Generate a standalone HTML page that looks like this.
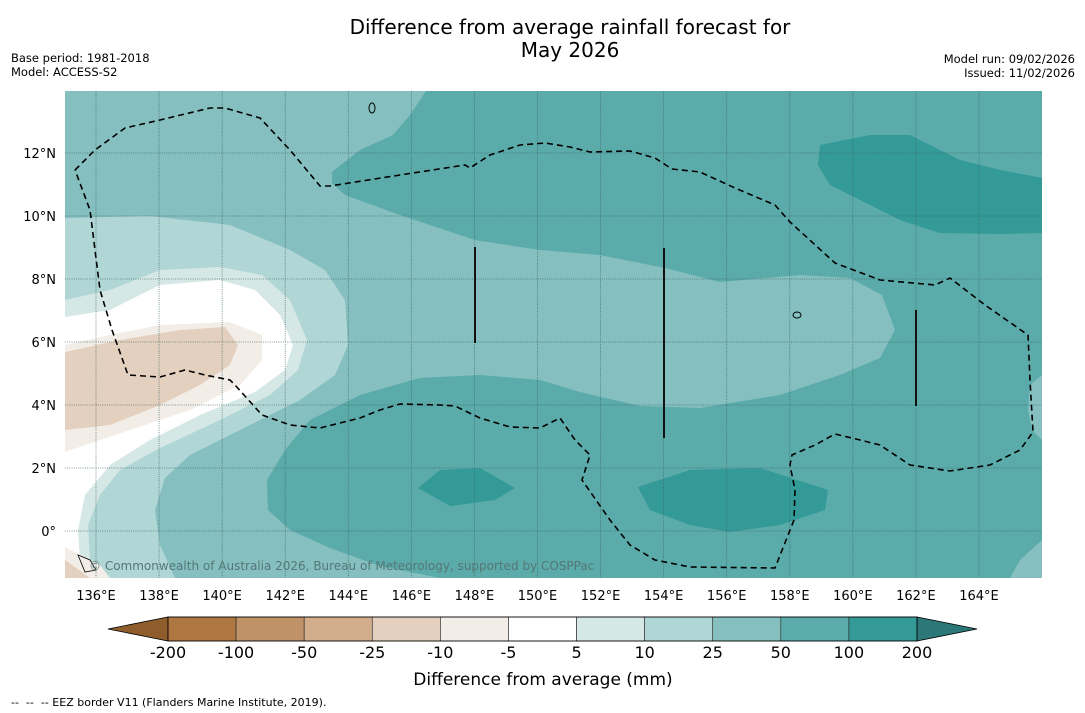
<!DOCTYPE html>
<html><head><meta charset="utf-8"><style>
body{margin:0;background:#fff;font-family:"Liberation Sans","DejaVu Sans",sans-serif;}
svg{display:block}
text{font-family:"DejaVu Sans","Liberation Sans",sans-serif;}
</style></head><body>
<svg id="s" width="1085" height="713" viewBox="0 0 1085 713">
<text x="570" y="34" font-size="20" text-anchor="middle">Difference from average rainfall forecast for</text>
<text x="570" y="57" font-size="20" text-anchor="middle">May 2026</text>
<text x="11" y="62" font-size="11.5">Base period: 1981-2018</text>
<text x="11" y="76" font-size="11.5">Model: ACCESS-S2</text>
<text x="1075" y="63" font-size="11.5" text-anchor="end">Model run: 09/02/2026</text>
<text x="1075" y="77" font-size="11.5" text-anchor="end">Issued: 11/02/2026</text>
<defs><clipPath id="mc"><rect x="65" y="91" width="977" height="487"/></clipPath></defs>
<g clip-path="url(#mc)">
<rect x="65" y="91" width="977" height="487" fill="#85bfbf"/>
<polygon fill="#5aabaa" points="426,91 1042,91 1042,375 1030,385 1028,410 1032,430 1042,440 1042,540 1020,560 1010,578 440,578 380,566 330,548 290,530 268,510 267,480 285,450 310,420 360,395 420,378 480,375 540,380 580,392 640,406 700,408 780,395 840,375 880,358 895,330 882,295 850,278 800,275 720,282 665,268 600,255 540,250 475,240 400,215 345,195 332,183 332,172 360,150 393,135 410,115"/>
<polygon fill="#339a97" points="820,145 870,135 910,135 960,160 1000,170 1042,178 1042,233 1000,234 940,233 900,220 860,200 830,185 818,165"/>
<polygon fill="#339a97" points="418,488 440,470 480,468 515,488 495,500 450,506"/>
<polygon fill="#339a97" points="638,487 690,470 760,468 828,490 825,510 780,525 730,532 690,525 650,510"/>
<polygon fill="#b0d6d5" points="65,218 150,216 230,225 290,250 325,270 345,300 348,345 335,375 300,400 240,430 190,455 165,478 155,510 160,545 175,578 65,578"/>
<polygon fill="#d5e8e6" points="65,300 110,290 160,270 220,267 262,275 290,300 307,340 298,370 270,395 220,420 160,448 120,470 100,495 88,525 90,560 100,578 65,578"/>
<polygon fill="#ffffff" points="65,317 110,310 160,285 220,280 255,290 280,315 293,345 285,370 255,392 200,415 150,440 110,465 85,495 78,530 80,560 85,578 65,578"/>
<polygon fill="#f2ede7" points="65,345 110,335 160,325 230,322 262,335 262,360 240,385 190,410 130,430 65,452"/>
<polygon fill="#f2ede7" points="65,547 100,565 110,578 65,578"/>
<polygon fill="#e4d0be" points="65,352 120,340 180,330 225,327 238,345 230,365 200,385 160,405 110,425 65,430"/>
<polygon fill="#e4d0be" points="65,560 90,578 65,578"/>
<g id="grid" stroke="#3f6464" stroke-width="0.8" stroke-dasharray="1,1.2" opacity="0.85"></g>
<polyline fill="none" stroke="#000" stroke-width="1.6" stroke-dasharray="6,4" points="75,170 95,150 125,128 160,120 210,108 225,108 260,118 290,150 320,186 330,186 400,175 465,165 470,168 490,155 520,145 545,143 570,147 590,152 630,151 655,158 672,169 700,172 735,188 775,205 790,222 835,263 880,280 935,285 950,278 985,305 1028,335 1030,380 1033,432 1020,450 990,465 950,471 910,465 880,445 860,440 835,434 815,445 792,455 790,465 795,490 794,520 775,568 690,567 655,560 630,545 610,520 582,480 590,455 575,440 560,418 540,428 510,427 480,418 455,406 440,405 400,404 380,410 360,418 320,428 290,425 262,415 235,385 230,380 205,375 185,370 160,377 128,375 112,330 100,290 90,210 75,170"/>
<line x1="475" y1="247" x2="475" y2="343" stroke="#111" stroke-width="2"/>
<line x1="664" y1="248" x2="664" y2="438" stroke="#111" stroke-width="2"/>
<line x1="916" y1="310" x2="916" y2="406" stroke="#111" stroke-width="2"/>
<ellipse cx="372" cy="108" rx="3" ry="5" fill="none" stroke="#000" stroke-width="1"/>
<ellipse cx="797" cy="315" rx="4" ry="3" fill="none" stroke="#000" stroke-width="1"/>
<path d="M78,555 L90,560 L96,570 L85,572 Z" fill="none" stroke="#000" stroke-width="0.8"/>
<text x="89" y="570" font-size="12" fill="#557777">© Commonwealth of Australia 2026, Bureau of Meteorology, supported by COSPPac</text>
</g>
<g id="ticks" font-size="13"></g>
<g id="cbar"></g>
<text x="543" y="685" font-size="17" text-anchor="middle">Difference from average (mm)</text>
<text x="11" y="706" font-size="11" xml:space="preserve" style="white-space:pre">--  --  -- EEZ border V11 (Flanders Marine Institute, 2019).</text>
</svg>
<script>
const lonTicks=[136,138,140,142,144,146,148,150,152,154,156,158,160,162,164];
const latTicks=[0,2,4,6,8,10,12];
const levels=["-200","-100","-50","-25","-10","-5","5","10","25","50","100","200"];
const levelColors=["#ae7741","#c09268","#d2ae8d","#e4d0be","#f2ede7","#ffffff","#d5e8e6","#b0d6d5","#85bfbf","#5aabaa","#339a97"];
const NS="http://www.w3.org/2000/svg";
const xLon=l=>96+(l-136)*31.535;
const yLat=l=>531-l*31.5;
function mk(t,a,p){const e=document.createElementNS(NS,t);for(const k in a)e.setAttribute(k,a[k]);p.appendChild(e);return e;}
const grid=document.getElementById('grid'),ticks=document.getElementById('ticks');
lonTicks.forEach(l=>{const x=xLon(l);
 const g=mk('line',{x1:x,y1:91,x2:x,y2:578},grid);
 
 
 const t=mk('text',{x:x,y:600,'text-anchor':'middle'},ticks);t.textContent=l+'°E';
 
 });
latTicks.forEach(l=>{const y=yLat(l);
 const g=mk('line',{x1:65,y1:y,x2:1042,y2:y},grid);
 
 
 const t=mk('text',{x:56,y:y+5,'text-anchor':'end'},ticks);t.textContent=l===0?'0°':l+'°N';
 
 });
const cb=document.getElementById('cbar');const x0=168,x1=917,w=(x1-x0)/levelColors.length,y0=617,h=24;
const lt=mk('polygon',{points:`${x0},${y0} ${x0},${y0+h} 108,${y0+h/2}`,fill:'#8f5d2c',stroke:'#000','stroke-width':0.8},cb);


const rt=mk('polygon',{points:`${x1},${y0} ${x1},${y0+h} 977,${y0+h/2}`,fill:'#2c7777',stroke:'#000','stroke-width':0.8},cb);


levelColors.forEach((c,i)=>{const r=mk('rect',{x:x0+i*w,y:y0,width:w,height:h,fill:c,stroke:'#222','stroke-width':0.6},cb);
 
 });
mk('rect',{x:x0,y:y0,width:x1-x0,height:h,fill:'none',stroke:'#000','stroke-width':0.8},cb);
levels.forEach((v,i)=>{const t=mk('text',{x:x0+i*w,y:658,'text-anchor':'middle','font-size':16},cb);t.textContent=v;
 
 });
</script>
</body></html>
